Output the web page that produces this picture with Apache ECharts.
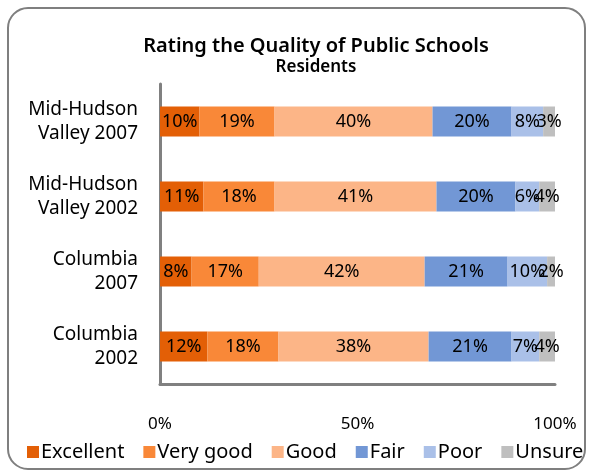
<!DOCTYPE html>
<html lang="en">
<head>
    <meta charset="UTF-8">
    <title>Rating the Quality of Public Schools</title>
    <script src="https://cdn.jsdelivr.net/npm/echarts@6/dist/echarts.min.js"></script>
    <style>
        html, body { margin: 0; padding: 0; background: #fff; }
        #chart { width: 590px; height: 475px; }
    </style>
</head>
<body>
    <div id="chart"></div>
    <script>
        const categories = ['Mid-Hudson\nValley 2007', 'Mid-Hudson\nValley 2002', 'Columbia\n2007', 'Columbia\n2002'];
        const excellent = [10, 11, 8, 12];
        const veryGood = [19, 18, 17, 18];
        const good = [40, 41, 42, 38];
        const fair = [20, 20, 21, 21];
        const poor = [8, 6, 10, 7];
        const unsure = [3, 4, 2, 4];
        const seriesNames = ['Excellent', 'Very good', 'Good', 'Fair', 'Poor', 'Unsure'];
        const colors = ['#E35F06', '#F98838', '#FCB587', '#7297D5', '#AAC0E8', '#BFBFBF'];

        const font = 'Noto Sans';
        const chart = echarts.init(document.getElementById('chart'));

        function makeSeries(name, data) {
            return {
                name: name,
                type: 'bar',
                stack: 'total',
                barWidth: '40%',
                data: data,
                label: {
                    show: true,
                    position: 'inside',
                    formatter: '{c}%',
                    color: '#000',
                    fontFamily: font,
                    fontSize: 18
                }
            };
        }

        chart.setOption({
            color: colors,
            animation: false,
            graphic: [{
                type: 'rect',
                shape: { x: 8, y: 8, width: 577, height: 461, r: 20 },
                style: { fill: 'none', stroke: '#7f7f7f', lineWidth: 2 },
                z: -1
            }],
            title: {
                text: 'Rating the Quality of Public Schools',
                subtext: 'Residents',
                left: 311,
                top: 31,
                textAlign: 'center',
                itemGap: 3,
                textStyle: { fontFamily: font, fontSize: 20, fontWeight: 600, color: '#000' },
                subtextStyle: { fontFamily: font, fontSize: 17, fontWeight: 600, color: '#000' }
            },
            legend: {
                bottom: 8,
                left: 22,
                icon: 'rect',
                itemWidth: 12,
                itemHeight: 12,
                itemGap: 19,
                textStyle: { fontFamily: font, fontSize: 20, color: '#000', padding: [0, 0, 0, -3] },
                data: seriesNames
            },
            grid: { left: 160, right: 35, top: 84, bottom: 91 },
            xAxis: {
                type: 'value',
                min: 0,
                max: 100,
                interval: 50,
                axisLine: { show: true, lineStyle: { color: '#808080', width: 3 } },
                axisTick: { show: false },
                splitLine: { show: false },
                axisLabel: { formatter: '{value}%', margin: 32, fontFamily: font, fontSize: 17, color: '#000' }
            },
            yAxis: {
                type: 'category',
                inverse: true,
                data: categories,
                axisLine: { show: true, lineStyle: { color: '#808080', width: 3 } },
                axisTick: { show: false },
                axisLabel: { margin: 22, fontFamily: font, fontSize: 19, lineHeight: 24, color: '#000', align: 'right' }
            },
            series: [
                makeSeries(seriesNames[0], excellent),
                makeSeries(seriesNames[1], veryGood),
                makeSeries(seriesNames[2], good),
                makeSeries(seriesNames[3], fair),
                makeSeries(seriesNames[4], poor),
                makeSeries(seriesNames[5], unsure)
            ]
        });
    </script>
</body>
</html>
